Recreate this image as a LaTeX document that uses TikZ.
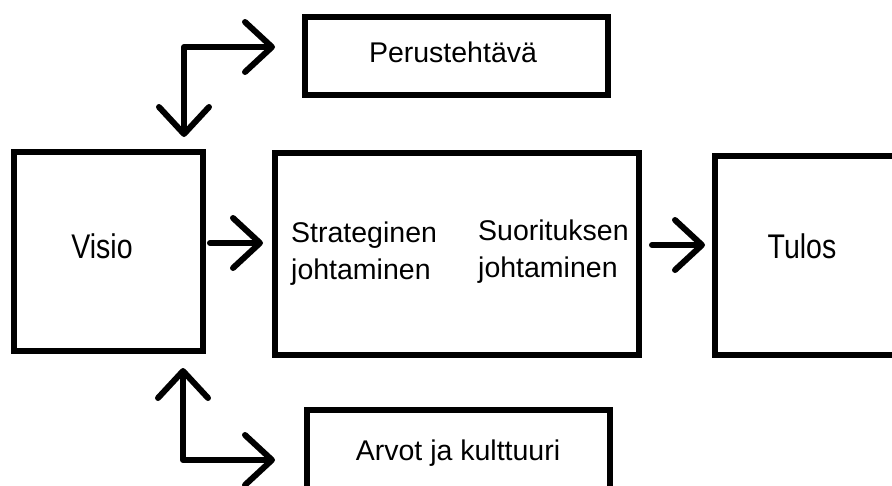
\documentclass[tikz,border=0pt]{standalone}
\usepackage{fontspec}
\usepackage{graphicx}
\setmainfont{Liberation Sans}
\usetikzlibrary{arrows.meta}
\tikzset{myhead/.tip={Straight Barb[length=27pt,width=50pt,round]}}
\begin{document}
\begin{tikzpicture}[x=1pt,y=-1pt,
  box/.style={draw, line width=6pt, rectangle, inner sep=0pt},
  txt/.style={font=\fontsize{28.5}{37}\selectfont, inner sep=0pt, anchor=base},
  arr/.style={line width=6pt, line cap=round, line join=round, -myhead},
  arrtwo/.style={line width=6pt, line cap=round, line join=round, myhead-myhead}]
\useasboundingbox (0,0) rectangle (892,485);
% boxes
\node[box, minimum width=189.5pt, minimum height=199pt] (visio) at (108.25,251.5) {};
\node[box, minimum width=363.5pt, minimum height=202.5pt] (mid) at (456.75,253.75) {};
\node[box, minimum width=300pt, minimum height=199pt] (tulos) at (865,255.5) {};
\node[box, minimum width=303pt, minimum height=78pt] (perus) at (456,56) {};
\node[box, minimum width=303pt, minimum height=100pt] (arvot) at (458,460) {};
% texts
\node[txt] (visiot) at (102,258) {\scalebox{1}[1.2]{Visio}};
\node[txt] (tulost) at (802,258) {\scalebox{1}[1.2]{Tulos}};
\node[txt] (perust) at (453,62) {Perustehtävä};
\node[txt] (arvott) at (458,460) {Arvot ja kulttuuri};
\node[txt, anchor=base west, align=left] (strat) at (291,279) {Strateginen\\johtaminen};
\node[txt, anchor=base west, align=left] (suor) at (478,277) {Suorituksen\\johtaminen};
% connectors
\draw[arr, shorten <=4pt, shorten >=9pt] ([yshift=8.5pt]visio.east) -- ([yshift=8.5pt]visio.east -| mid.west);
\draw[arr, shorten <=10.5pt, shorten >=7pt] ([yshift=8.75pt]mid.east) -- ([yshift=8.75pt]mid.east -| tulos.west);
\draw[arrtwo, shorten >=26.5pt] ([xshift=75.75pt,yshift=12pt]visio.north) |- ([yshift=9pt]perus.west);
\draw[arrtwo, shorten >=28.5pt] ([xshift=74.75pt,yshift=-14pt]visio.south) |- (arvot.west);
\end{tikzpicture}
\end{document}
